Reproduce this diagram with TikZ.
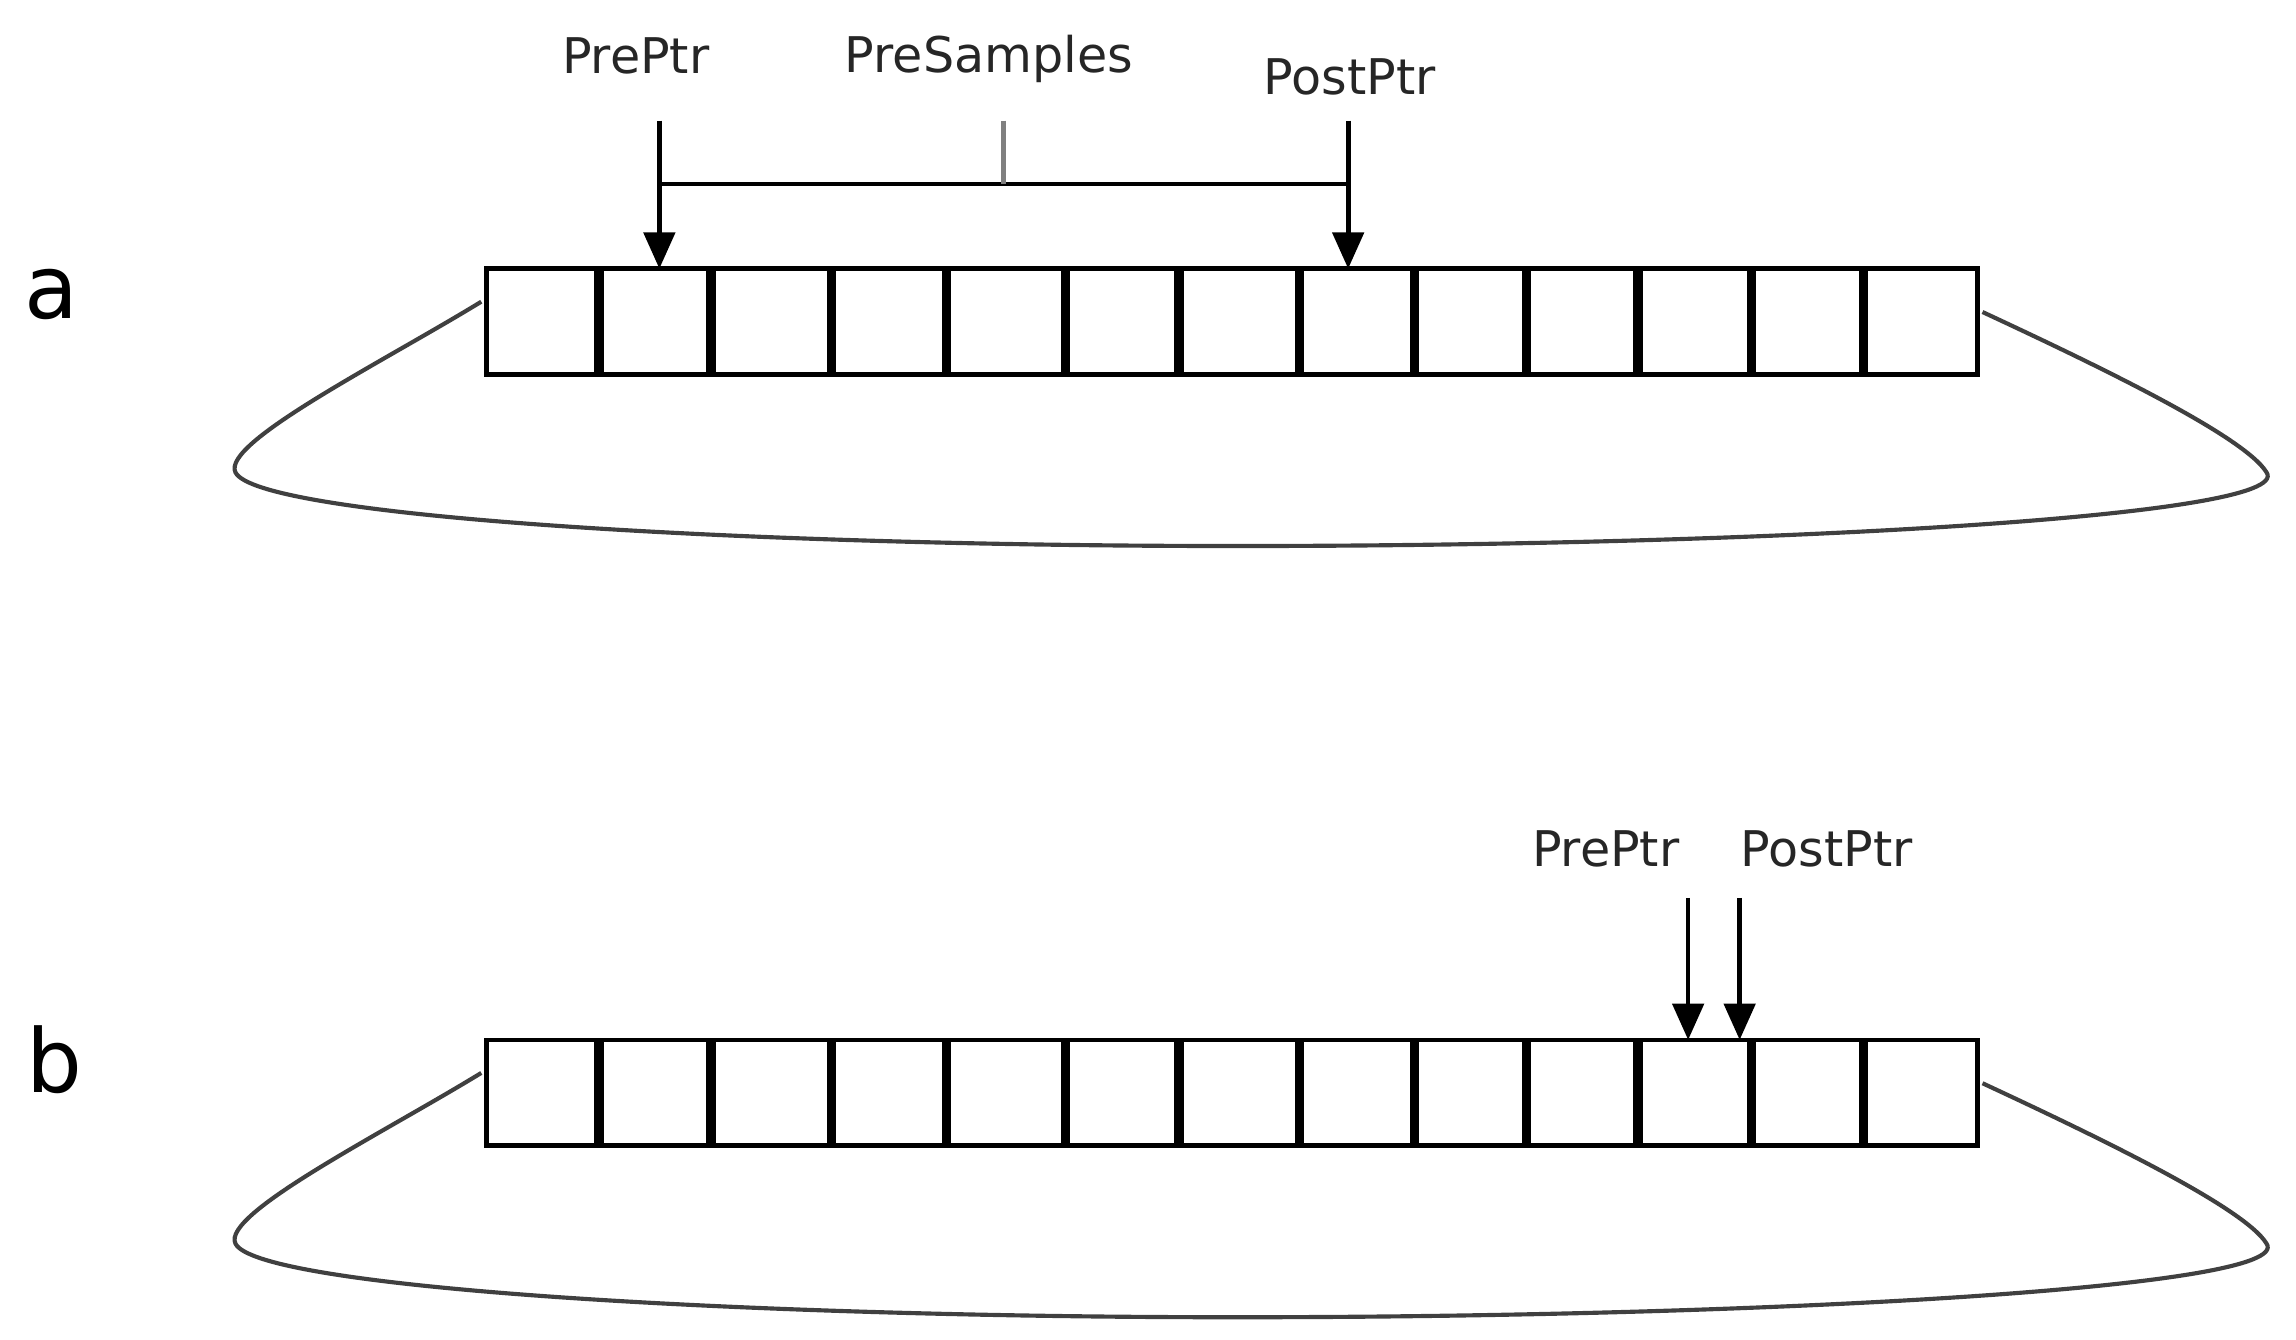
\documentclass[tikz,border=0pt]{standalone}
\usepackage{fontspec}
\setmainfont{DejaVu Sans}
\usetikzlibrary{arrows.meta}
\begin{document}
\begin{tikzpicture}[x=0.01cm,y=-0.01cm,
  cell/.style={draw,line width=0.9pt,inner sep=0,outer sep=0},
  ptr/.style={-{Triangle[length=7pt,width=6pt]},line width=0.9pt},
  loop/.style={draw=black!75,line width=0.8pt},
  lbl/.style={font=\fontsize{9.5}{11}\selectfont,text=black!85},
  big/.style={font=\fontsize{17}{20}\selectfont}]
\useasboundingbox (0,0) rectangle (1560,910);
\foreach \r/\y in {a/181,b/705}{
  \foreach \i/\xa/\xb in {1/329/407,2/407/483,3/483/565,4/565/643,5/643/724,6/724/801,7/801/883,8/883/961,9/961/1037,10/1037/1113,11/1113/1190,12/1190/1266,13/1266/1345}{
    \node[cell,minimum width={(\xb-\xa)*0.01cm-0.9pt},minimum height={0.75cm-0.9pt}] (\r\i) at ({(\xa+\xb)/2},\y+37.5) {};
  }
  \coordinate (\r L) at (327,\y+24);
  \coordinate (\r R) at (1347,\y+31);
  \draw[loop] (\r L) .. controls (260,\y+65) and (150,\y+120) .. (160,\y+140)
     .. controls (175,\y+170) and (500,\y+190) .. (840,\y+190)
     .. controls (1200,\y+190) and (1560,\y+170) .. (1540,\y+140)
     .. controls (1525,\y+115) and (1420,\y+65) .. (\r R);
}
\node[big] (la) at (35,200) {a};
\node[big] (lb) at (37,720) {b};
\node[lbl] (pa) at (432,38) {PrePtr};
\node[lbl] (sa) at (672,40) {PreSamples};
\node[lbl] (qa) at (917,52) {PostPtr};
\coordinate (pa1) at (448,82);
\coordinate (qa1) at (916,82);
\coordinate (pa2) at (448,125);
\coordinate (qa2) at (916,125);
\coordinate (sa1) at (682,82);
\coordinate (sa2) at (682,125);
\draw[ptr] (pa1) -- (pa1 |- a2.north);
\draw[ptr] (qa1) -- (qa1 |- a8.north);
\draw[line width=0.9pt] (pa2) -- (qa2);
\draw[line width=0.9pt,black!50] (sa1) -- (sa2);
\node[lbl] (pb) at (1091,577) {PrePtr};
\node[lbl] (qb) at (1241,577) {PostPtr};
\coordinate (pb1) at (1147,610);
\coordinate (qb1) at (1182,610);
\draw[ptr] (pb1) -- (pb1 |- b11.north);
\draw[ptr] (qb1) -- (qb1 |- b11.north);
\end{tikzpicture}
\end{document}
